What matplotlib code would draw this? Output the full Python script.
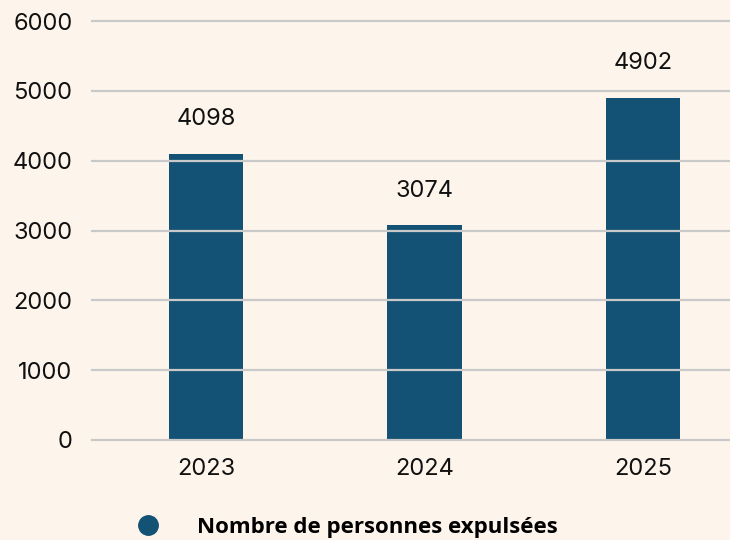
import matplotlib
matplotlib.use("Agg")
import matplotlib.pyplot as plt
from matplotlib.lines import Line2D

categories = ["2023", "2024", "2025"]
values = [4098, 3074, 4902]
yticks = [0, 1000, 2000, 3000, 4000, 5000, 6000]
series_name = "Nombre de personnes expulsées"

bg = "#fdf5ec"
bar_color = "#135275"
grid_color = "#c9c9c9"

plt.rcParams['font.family'] = ['Inter', 'DejaVu Sans']

fig = plt.figure(figsize=(7.3, 5.4), dpi=100, facecolor=bg)
ax = fig.add_axes([92/730, 1-440/540, 1-92/730, (440-21)/540])
ax.set_facecolor(bg)

x = list(range(len(categories)))
ax.bar(x, values, width=0.34, color=bar_color, zorder=2)
ax.set_xlim(-0.522, 2.398)
ax.set_ylim(0, 6000)
ax.set_yticks(yticks)
ax.set_xticks(x)
ax.set_xticklabels(categories)
for yv in yticks:
    ax.axhline(yv, color=grid_color, lw=1.6, zorder=3, clip_on=False)
for s in ax.spines.values():
    s.set_visible(False)
ax.tick_params(axis='both', length=0, labelsize=17, colors='#111111')
ax.tick_params(axis='y', pad=14)
ax.tick_params(axis='x', pad=13)

for xi, v in zip(x, values):
    ax.annotate(str(v), (xi, v), xytext=(0, 25), textcoords='offset points',
                ha='center', va='center', fontsize=17, color='#111111')

handle = Line2D([], [], marker='o', ls='', color=bar_color, markersize=14)
fig.legend(handles=[handle], labels=[series_name], loc='center left',
           bbox_to_anchor=(106/730, 13/540), frameon=False, handletextpad=1.2,
           prop={'family': ['Open Sans', 'DejaVu Sans'], 'weight': 'bold', 'size': 16})

fig.savefig("out.png", dpi=100, facecolor=bg)
